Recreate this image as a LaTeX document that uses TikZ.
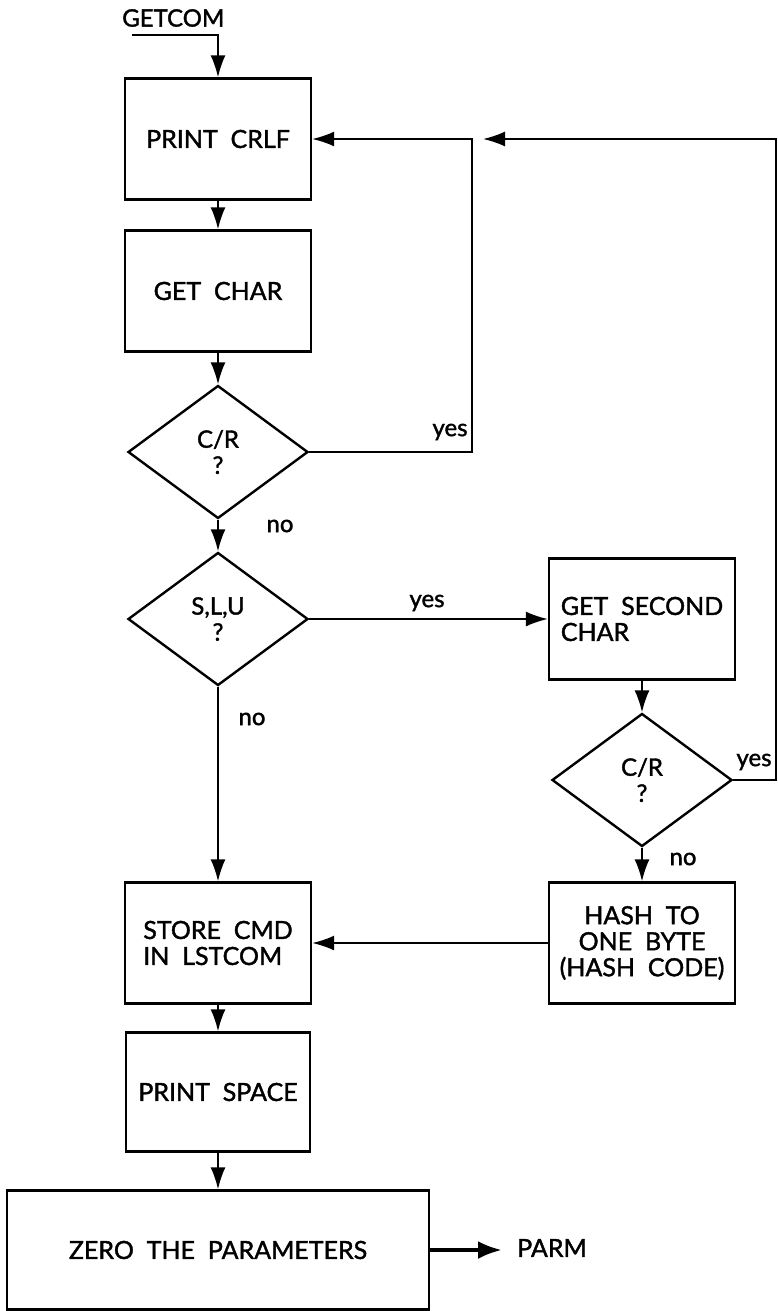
\documentclass[tikz,border=0pt]{standalone}
\usepackage{fontspec}
\setmainfont{Lato}[WordSpace=2.0, FakeBold=1.5]
\usetikzlibrary{arrows.meta}
\usetikzlibrary{shapes.geometric}
\tikzset{>={Latex[length=22pt,width=15pt]}}
\tikzset{
  block/.style={draw, line width=2.4pt, inner sep=0pt, minimum width=186pt, minimum height=121pt, align=center, font=\fontsize{25}{26}\selectfont},
  decision/.style={draw, diamond, line width=2.4pt, inner sep=0pt, minimum width=180pt, minimum height=133pt, align=center, font=\fontsize{24}{26}\selectfont},
  flow/.style={->, line width=1.8pt},
  answer/.style={inner sep=0pt, font=\fontsize{24}{24}\selectfont},
}
\newcommand{\answerlabel}[3]{
   \node[answer] (#1) at (#2) {#3};
}

\begin{document}
\begin{tikzpicture}[x=1pt, y=-1pt]
		\useasboundingbox (0,0) rectangle (778,1311);

		% Main column
		\node[block] (crlf) at (218,139) {PRINT CRLF};
		\node[block] (getchar) at (218,291) {GET CHAR};
		\node[decision] (cr) at (218,452) {C/R\\?};
		\node[decision] (slu) at (218,619) {S,L,U\\?};
		\node[block, align=left] (store) at (218,943) {STORE CMD\\IN LSTCOM};
		\node[block, minimum width=184pt, minimum height=119pt] (space) at (218,1092) {PRINT SPACE};
		\node[block, minimum width=422pt, minimum height=119pt] (zero) at (218,1250) {ZERO THE PARAMETERS};

		% Second column
		\node[block, align=left] (second) at (642,619) {GET SECOND\\CHAR};
		\node[decision] (crtwo) at (642,780) {C/R\\?};
		\node[block] (hash) at (642,943) {HASH TO\\ONE BYTE\\(HASH CODE)};

		% Entry and exit
		\node[anchor=west, inner sep=0pt, font=\fontsize{24}{24}\selectfont] (getcom) at (122,18) {GETCOM};
		\node[anchor=west, inner sep=0pt, font=\fontsize{25}{24}\selectfont] (parm) at (517,1248) {PARM};
		\coordinate (entry) at (132,35);
		\coordinate (loopa) at (472,139);
		\coordinate (loopb) at (776,139);
		\coordinate (loopend) at (483,139);

		% Connections
		\draw[flow] (entry) -| (crlf.north);
		\draw[flow] (crlf) -- (getchar);
		\draw[flow] (getchar) -- (cr);
		\draw[flow] (cr.east) -| (loopa) -- (crlf.east);
		\draw[flow] (cr) -- (slu);
		\draw[flow] (slu.east) -- (second.west);
		\draw[flow] (slu) -- (store);
		\draw[flow] (second) -- (crtwo);
		\draw[flow] (crtwo.east) -| (loopb) -- (loopend);
		\draw[flow] (crtwo) -- (hash);
		\draw[flow] (hash.west) -- (store.east);
		\draw[flow] (store) -- (space);
		\draw[flow] (space) -- (zero);
		\draw[-{Latex[length=24pt,width=18pt]}, line width=4pt, shorten >=15pt] (zero.east) -- (zero.east -| parm.west);

		% Answers
		\answerlabel{yesa}{450,432}{yes}
		\answerlabel{noa}{280,526}{no}
		\answerlabel{yesb}{427,603}{yes}
		\answerlabel{nob}{252,719}{no}
		\answerlabel{yesc}{754,762}{yes}
		\answerlabel{noc}{683,859}{no}

		% Grid
%		\draw[help lines, step=50] (0,0) grid (778,1311);
	\end{tikzpicture}
\end{document}
